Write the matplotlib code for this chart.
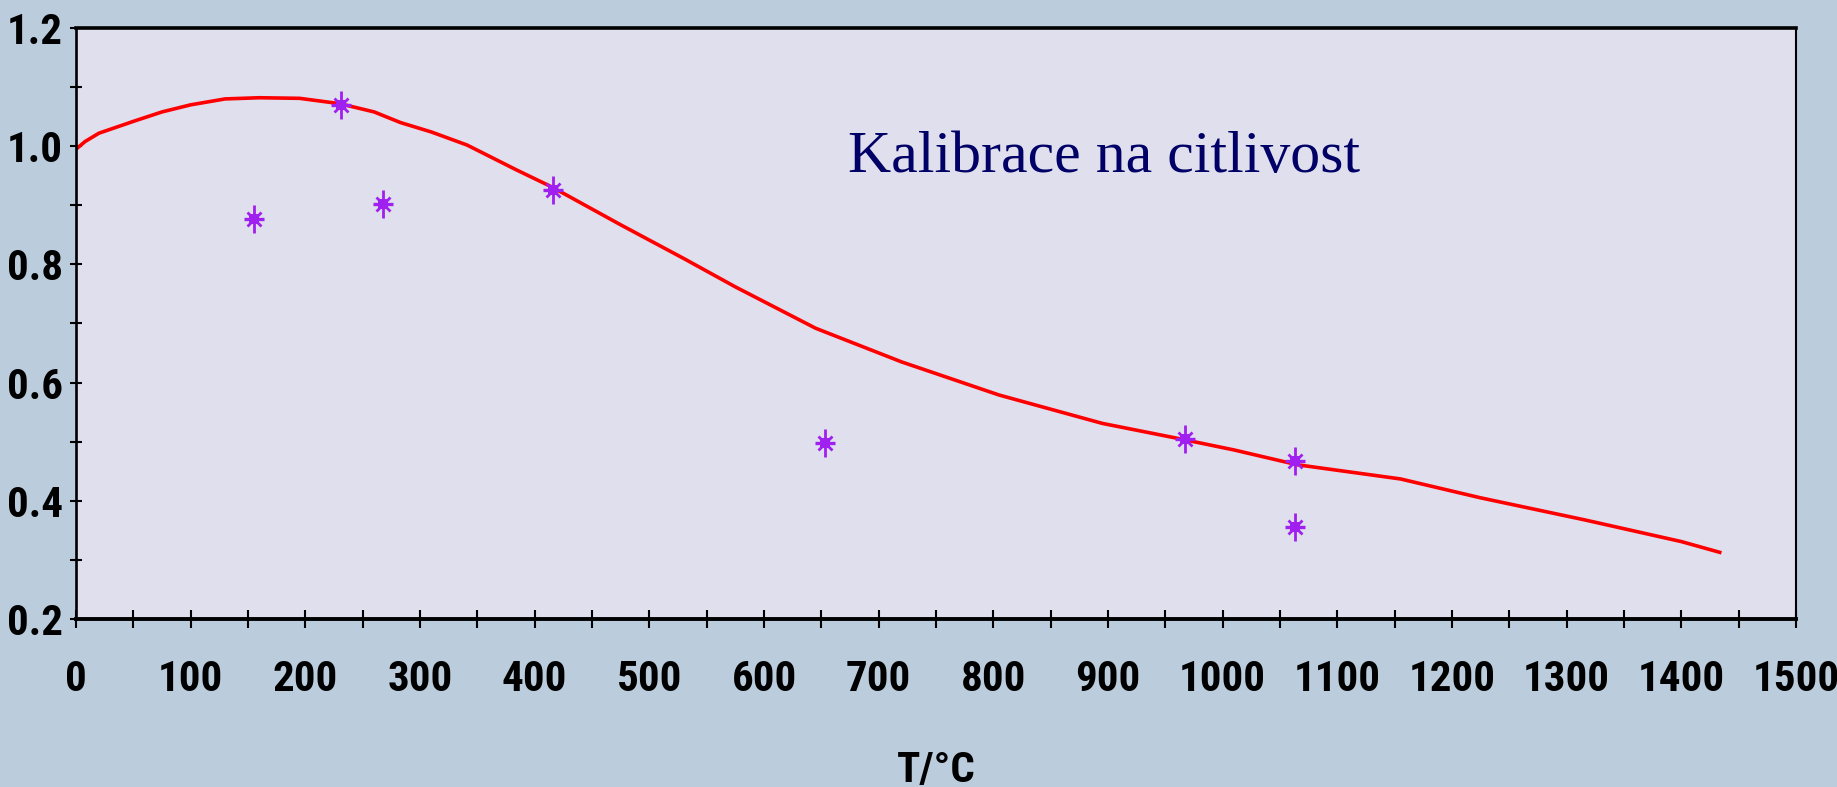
import matplotlib
matplotlib.use("Agg")
import matplotlib.pyplot as plt
from matplotlib import font_manager
from matplotlib.ticker import MultipleLocator

# fitted calibration curve
curve_t = [0, 8, 20, 50, 75, 100, 130, 160, 195, 230, 260, 283, 310, 341,
           384, 415, 475, 530, 575, 645, 720, 805, 895, 965, 1010, 1065,
           1110, 1155, 1225, 1315, 1400, 1435]
curve_v = [0.995, 1.008, 1.022, 1.042, 1.058, 1.070, 1.080, 1.082, 1.081,
           1.072, 1.058, 1.040, 1.024, 1.002, 0.960, 0.931, 0.867, 0.810,
           0.762, 0.692, 0.635, 0.579, 0.531, 0.504, 0.486, 0.461, 0.449,
           0.437, 0.405, 0.368, 0.331, 0.312]

# measured points
meas_t = [155, 231, 268, 416, 653, 967, 1063, 1063]
meas_v = [0.877, 1.070, 0.902, 0.926, 0.498, 0.505, 0.467, 0.356]

title = "Kalibrace na citlivost"
xlabel = "T/°C"

# pick the narrowest sans family that is actually installed
installed = font_manager.fontManager.ttflist
names = {f.name for f in installed}
tick_props = dict(family='DejaVu Sans', fontweight='bold', fontsize=24)
for cand in ['Liberation Sans Narrow', 'Roboto Condensed', 'Open Sans Condensed',
             'Arial Narrow', 'Noto Sans Condensed']:
    if cand in names:
        tick_props = dict(family=cand, fontweight='bold', fontsize=31)
        break
else:
    if any(f.name == 'DejaVu Sans' and f.stretch == 'condensed' for f in installed):
        tick_props = dict(family='DejaVu Sans', fontstretch='condensed',
                          fontweight='bold', fontsize=26)

fig_bg = '#BBCCDD'
ax_bg = '#DFDFEE'
purple = '#A020F0'

fig = plt.figure(figsize=(18.37, 7.87), dpi=100, facecolor=fig_bg)
ax = fig.add_axes([76 / 1837, 1 - 619 / 787, 1720 / 1837, 591 / 787])
ax.set_facecolor(ax_bg)

ax.plot(curve_t, curve_v, color='#FF0000', lw=2.6, solid_capstyle='butt',
        zorder=2)

# asterisk-like markers built from a few simple marker shapes
ax.plot(meas_t, meas_v, ls='none', marker='|', ms=19.5, mew=2.0,
        color=purple, zorder=3)
ax.plot(meas_t, meas_v, ls='none', marker='_', ms=14.5, mew=2.4,
        color=purple, zorder=3)
ax.plot(meas_t, meas_v, ls='none', marker='x', ms=10.5, mew=2.0,
        color=purple, zorder=3)
ax.plot(meas_t, meas_v, ls='none', marker='s', ms=7.5, mew=0,
        color=purple, zorder=3)

ax.text(673, 0.956, title, family='Liberation Serif', fontsize=43,
        color='#000066', va='baseline', ha='left')

ax.set_xlim(0, 1500)
ax.set_ylim(0.2, 1.2)
ax.xaxis.set_major_locator(MultipleLocator(100))
ax.xaxis.set_minor_locator(MultipleLocator(50))
ax.yaxis.set_major_locator(MultipleLocator(0.2))
ax.yaxis.set_minor_locator(MultipleLocator(0.1))
ax.yaxis.set_major_formatter(lambda v, p: f"{v:.1f}")

ax.tick_params(axis='x', which='both', direction='inout', length=13,
               width=1.5, color='black')
ax.tick_params(axis='x', which='major', pad=22)
ax.tick_params(axis='y', which='both', direction='inout', length=9,
               width=1.5, color='black', pad=5)
for lab in ax.get_xticklabels() + ax.get_yticklabels():
    lab.set(**tick_props)

ax.set_xlabel(xlabel, labelpad=36, **tick_props)

ax.spines['left'].set_linewidth(1.9)
ax.spines['right'].set_linewidth(1.5)
ax.spines['top'].set_linewidth(2.6)
ax.spines['bottom'].set_linewidth(2.8)

fig.savefig('out.png', dpi=100, facecolor=fig_bg)
